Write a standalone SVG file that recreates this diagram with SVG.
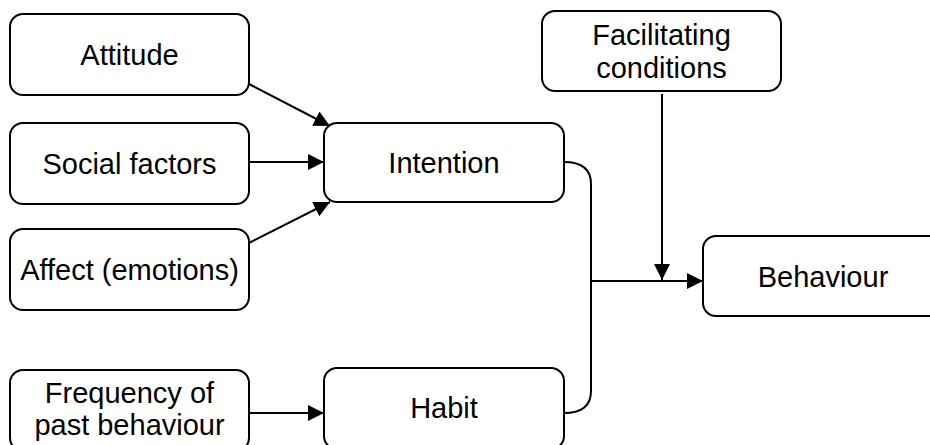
<svg xmlns="http://www.w3.org/2000/svg" width="930" height="445" viewBox="0 0 930 445">
<style>
.box{fill:#fff;stroke:#000;stroke-width:2}
.lbl{font-family:"Liberation Sans",Arial,sans-serif;font-size:29px;fill:#000;text-anchor:middle}
.con{fill:none;stroke:#000;stroke-width:2}
</style>
<defs>
<marker id="ah" markerUnits="userSpaceOnUse" markerWidth="18" markerHeight="18" refX="16" refY="8" orient="auto">
<path d="M0,0 L16,8 L0,16 Z" fill="#000"/>
</marker>
</defs>
<rect width="930" height="445" fill="#fff"/>
<g id="connectors">
<line class="con" x1="249" y1="84" x2="330" y2="126" marker-end="url(#ah)"/>
<line class="con" x1="249" y1="162" x2="324" y2="162" marker-end="url(#ah)"/>
<line class="con" x1="249" y1="243" x2="330" y2="202" marker-end="url(#ah)"/>
<line class="con" x1="249" y1="413" x2="324" y2="413" marker-end="url(#ah)"/>
<path class="con" d="M564,162 Q591,162 591,184 L591,391 Q591,413 564,413"/>
<line class="con" x1="591" y1="281" x2="703" y2="281" marker-end="url(#ah)"/>
<line class="con" x1="662" y1="94" x2="662" y2="280" marker-end="url(#ah)"/>
</g>
<g id="attitude"><rect class="box" x="10" y="14" width="239" height="81" rx="13"/><text class="lbl" x="129.5" y="65">Attitude</text></g>
<g id="social"><rect class="box" x="10" y="123" width="239" height="81" rx="13"/><text class="lbl" x="129.5" y="174">Social factors</text></g>
<g id="affect"><rect class="box" x="10" y="229" width="239" height="81" rx="13"/><text class="lbl" x="129.5" y="280">Affect (emotions)</text></g>
<g id="frequency"><rect class="box" x="10" y="370" width="239" height="81" rx="13"/><text class="lbl" x="129.5" y="403">Frequency of</text><text class="lbl" x="129.5" y="435">past behaviour</text></g>
<g id="intention"><rect class="box" x="324" y="123" width="240" height="79" rx="13"/><text class="lbl" x="444" y="173">Intention</text></g>
<g id="habit"><rect class="box" x="324" y="368" width="240" height="81" rx="13"/><text class="lbl" x="444" y="418">Habit</text></g>
<g id="facilitating"><rect class="box" x="542" y="11" width="239" height="80" rx="13"/><text class="lbl" x="661.5" y="45">Facilitating</text><text class="lbl" x="661.5" y="78">conditions</text></g>
<g id="behaviour"><rect class="box" x="703" y="236" width="240" height="80" rx="13"/><text class="lbl" x="823" y="287">Behaviour</text></g>
</svg>
